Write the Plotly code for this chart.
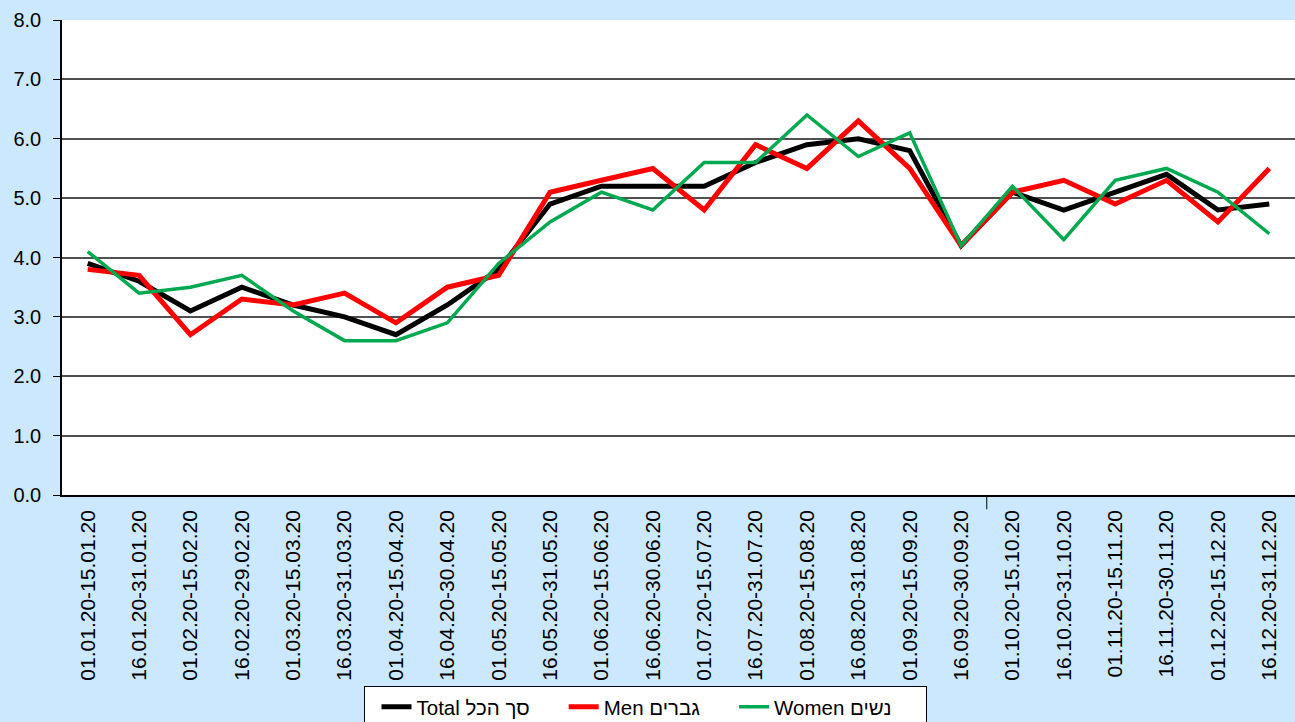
import plotly.graph_objects as go

categories = [
    "01.01.20-15.01.20", "16.01.20-31.01.20", "01.02.20-15.02.20", "16.02.20-29.02.20",
    "01.03.20-15.03.20", "16.03.20-31.03.20", "01.04.20-15.04.20", "16.04.20-30.04.20",
    "01.05.20-15.05.20", "16.05.20-31.05.20", "01.06.20-15.06.20", "16.06.20-30.06.20",
    "01.07.20-15.07.20", "16.07.20-31.07.20", "01.08.20-15.08.20", "16.08.20-31.08.20",
    "01.09.20-15.09.20", "16.09.20-30.09.20", "01.10.20-15.10.20", "16.10.20-31.10.20",
    "01.11.20-15.11.20", "16.11.20-30.11.20", "01.12.20-15.12.20", "16.12.20-31.12.20",
]
total = [3.9, 3.6, 3.1, 3.5, 3.2, 3.0, 2.7, 3.2, 3.8, 4.9, 5.2, 5.2,
         5.2, 5.6, 5.9, 6.0, 5.8, 4.2, 5.1, 4.8, 5.1, 5.4, 4.8, 4.9]
men = [3.8, 3.7, 2.7, 3.3, 3.2, 3.4, 2.9, 3.5, 3.7, 5.1, 5.3, 5.5,
       4.8, 5.9, 5.5, 6.3, 5.5, 4.2, 5.1, 5.3, 4.9, 5.3, 4.6, 5.5]
women = [4.1, 3.4, 3.5, 3.7, 3.1, 2.6, 2.6, 2.9, 3.9, 4.6, 5.1, 4.8,
         5.6, 5.6, 6.4, 5.7, 6.1, 4.2, 5.2, 4.3, 5.3, 5.5, 5.1, 4.4]
y_ticks = [0, 1, 2, 3, 4, 5, 6, 7, 8]
series_names = ["Total סך הכל", "Men גברים", "Women נשים"]

FONT = "Arial, Liberation Sans, sans-serif"
NB = "\u00a0"

fig = go.Figure()
fig.add_trace(go.Scatter(x=categories, y=total, mode="lines", name=series_names[0] + NB * 3,
                         line=dict(color="#000000", width=5)))
fig.add_trace(go.Scatter(x=categories, y=men, mode="lines", name=series_names[1] + NB * 3,
                         line=dict(color="#FF0000", width=5)))
fig.add_trace(go.Scatter(x=categories, y=women, mode="lines", name=series_names[2] + NB * 5,
                         line=dict(color="#00A850", width=3.5)))

fig.update_layout(
    width=1295, height=722,
    paper_bgcolor="#CCE8FF",
    plot_bgcolor="#FFFFFF",
    margin=dict(l=62, r=0, t=20, b=227),
    font=dict(family=FONT, color="#000000"),
    showlegend=True,
    legend=dict(
        orientation="h", xref="container", yref="container",
        x=645 / 1295, xanchor="center", y=(722 - 686) / 722, yanchor="top",
        bgcolor="#FFFFFF", bordercolor="#000000", borderwidth=1,
        font=dict(size=20.5, family=FONT), itemwidth=30, indentation=12,
    ),
    xaxis=dict(
        type="category", range=[-0.5, 23.5], tickangle=-90,
        tickfont=dict(size=21, family=FONT), showgrid=False,
        showline=True, linecolor="#000000", linewidth=1.5, ticks="",
        ticklabelstandoff=5,
    ),
    yaxis=dict(
        range=[0, 8], tickvals=y_ticks, tickformat=".1f",
        tickfont=dict(size=20, family=FONT),
        showgrid=True, gridcolor="#505050", gridwidth=1.5,
        showline=True, linecolor="#000000", linewidth=1.5,
        ticks="outside", ticklen=7, tickcolor="#000000", zeroline=False,
        ticklabelstandoff=8,
    ),
)
fig.add_shape(type="line", xref="x", yref="paper", x0=17.5, x1=17.5, y0=-0.03, y1=0.0,
              line=dict(color="#000000", width=1))

fig.write_html(
    "out.html",
    config={"displayModeBar": False},
    post_script="document.body.style.margin='0';document.body.style.overflow='hidden';",
)
